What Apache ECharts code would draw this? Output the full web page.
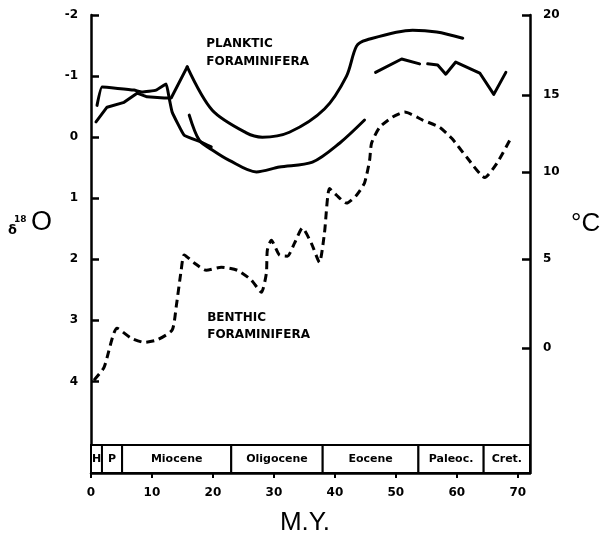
<!DOCTYPE html>
<html>
<head>
<meta charset="utf-8">
<script src="https://cdn.jsdelivr.net/npm/echarts@6/dist/echarts.min.js"></script>
<style>html,body{margin:0;padding:0;background:#fff;}#c{width:601px;height:533px;}</style>
</head>
<body>
<div id="c"></div>
<script>
// ---- data (MY, delta18O) ----
const plankticA = [[0.99,-0.52],[1.81,-0.82],[7.07,-0.77],[8.38,-0.74],[10.68,-0.77],[12.33,-0.87],[12.82,-0.64],[13.31,-0.41],[15.28,-0.03],[18.08,0.08],[19.72,0.16]];
const plankticB1 = [[0.82,-0.25],[2.63,-0.49],[5.42,-0.57],[7.56,-0.72],[9.20,-0.66],[12.00,-0.64],[13.15,-0.64],[15.78,-1.15]];
const plankticB2 = [[15.78,-1.15],[19.89,-0.44],[25.47,-0.07],[28.10,0.00],[32.54,-0.08],[38.29,-0.46],[41.91,-1.00],[43.55,-1.49],[45.19,-1.59],[52.75,-1.75],[56.70,-1.72],[60.97,-1.62]];
const plankticC = [[16.11,-0.36],[17.75,0.05],[19.89,0.21],[22.68,0.38],[27.12,0.57],[30.90,0.49],[36.32,0.41],[40.76,0.10],[44.86,-0.28]];
const plankticD1 = [[46.67,-1.06],[50.95,-1.28],[53.90,-1.20]];
const plankticD2 = [[55.22,-1.20],[56.86,-1.18],[58.18,-1.03],[59.82,-1.23],[63.76,-1.05],[66.06,-0.70],[68.04,-1.06]];
const benthic = [[0.49,3.98],[2.14,3.77],[4.27,3.13],[6.57,3.29],[8.71,3.36],[10.85,3.32],[13.31,3.16],[13.97,2.78],[14.79,2.18],[15.28,1.93],[16.93,2.06],[18.90,2.18],[21.36,2.13],[23.99,2.18],[26.29,2.34],[27.94,2.54],[28.76,2.23],[28.92,1.85],[29.58,1.69],[30.89,1.93],[32.21,1.95],[33.36,1.74],[34.68,1.49],[36.15,1.74],[37.47,2.05],[38.29,1.57],[39.11,0.84],[40.26,0.95],[41.91,1.08],[43.55,0.95],[44.86,0.75],[45.69,0.38],[46.01,0.10],[47.33,-0.16],[49.47,-0.33],[51.44,-0.41],[54.40,-0.28],[57.19,-0.16],[59.16,0.02],[61.63,0.33],[64.59,0.66],[66.56,0.43],[68.69,0.05]];

// epochs
const epochNames = ['H','P','Miocene','Oligocene','Eocene','Paleoc.','Cret.'];
const epochBounds = [0,1.8,5.1,23.0,38.0,53.7,64.4,72];
const epochBand = [5.04,5.5];

// ticks
const myTicks = [0,10,20,30,40,50,60,70];
const deltaTicks = [-2,-1,0,1,2,3,4];
const tempLabels = ['20','15','10','5','0'];
const tempPositions = [-2.0,-0.69,0.57,2.0,3.45];

const chart = echarts.init(document.getElementById('c'), null, {renderer:'canvas'});
const F = 'DejaVu Sans';
const lblFont = {color:'#000',fontWeight:'bold',fontSize:12,fontFamily:F};

const line = (d,sm)=>({type:'line',data:d,showSymbol:false,symbol:'none',smooth:sm,
  lineStyle:{color:'#000',width:3,cap:'round',join:'round'},silent:true,z:3});

const epochAreas = epochNames.map((n,i)=>[
  {name:n, coord:[epochBounds[i], epochBand[0]]},
  {coord:[epochBounds[i+1], epochBand[1]]}
]);

const option = {
  animation:false,
  backgroundColor:'#fff',
  grid:{left:91,right:71,top:15,bottom:60},
  xAxis:{type:'value',min:0,max:72,
    axisLine:{show:true,onZero:false,lineStyle:{color:'#000',width:2.5}},
    axisTick:{show:true,length:5,customValues:myTicks,lineStyle:{color:'#000',width:2}},
    axisLabel:Object.assign({margin:14,customValues:myTicks},lblFont),
    splitLine:{show:false}},
  yAxis:[
    {type:'value',inverse:true,min:-2,max:5.5,position:'left',
      axisLine:{show:true,onZero:false,lineStyle:{color:'#000',width:2.5}},
      axisTick:{show:true,inside:true,length:8,customValues:deltaTicks,lineStyle:{color:'#000',width:2.5}},
      axisLabel:Object.assign({margin:13,customValues:deltaTicks,formatter:(v)=>String(v)},lblFont),
      splitLine:{show:false}},
    {type:'value',inverse:true,min:-2,max:5.5,position:'right',
      axisLine:{show:true,onZero:false,lineStyle:{color:'#000',width:2.5}},
      axisTick:{show:true,inside:true,length:8,customValues:tempPositions,lineStyle:{color:'#000',width:2.5}},
      axisLabel:Object.assign({margin:13,customValues:tempPositions,formatter:(v)=>{
        let best=0,bd=1e9; tempPositions.forEach((p,i)=>{const d=Math.abs(p-v); if(d<bd){bd=d;best=i;}}); return tempLabels[best];}},lblFont),
      splitLine:{show:false}}
  ],
  series:[
    line(plankticA,0.1),
    line(plankticB1,0),
    line(plankticB2,0.3),
    line(plankticC,0.3),
    line(plankticD1,0),
    line(plankticD2,0),
    {type:'line',data:benthic,showSymbol:false,symbol:'none',smooth:0.2,silent:true,z:3,
      lineStyle:{color:'#000',width:3,type:[8,5]},
      markArea:{silent:true,
        itemStyle:{color:'#fff',borderColor:'#000',borderWidth:2},
        label:{show:true,position:'inside',color:'#000',fontWeight:'bold',fontSize:11,fontFamily:F},
        data:epochAreas}}
  ]
};
chart.setOption(option);

// annotation texts anchored in data coordinates
const p1 = chart.convertToPixel({gridIndex:0},[18.9,-1.52]);
const p2 = chart.convertToPixel({gridIndex:0},[18.9,-1.23]);
const b1 = chart.convertToPixel({gridIndex:0},[19.06,2.96]);
const b2 = chart.convertToPixel({gridIndex:0},[19.06,3.23]);
const ann = (t,p)=>({type:'text',style:{text:t,x:p[0],y:p[1],textAlign:'left',textVerticalAlign:'middle',font:'bold 12px "DejaVu Sans"',fill:'#000'}});
chart.setOption({graphic:[
  ann('PLANKTIC',p1), ann('FORAMINIFERA',p2),
  ann('BENTHIC',b1), ann('FORAMINIFERA',b2),
  {type:'text',style:{text:'δ',x:8,y:231,textAlign:'left',textVerticalAlign:'middle',font:'bold 13px "DejaVu Sans"',fill:'#000'}},
  {type:'text',style:{text:'18',x:14,y:220,textAlign:'left',textVerticalAlign:'middle',font:'bold 9px "DejaVu Sans"',fill:'#000'}},
  {type:'text',style:{text:'O',x:31,y:223,textAlign:'left',textVerticalAlign:'middle',font:'27px "Liberation Sans"',fill:'#000'}},
  {type:'text',style:{text:'°C',x:571,y:224,textAlign:'left',textVerticalAlign:'middle',font:'26px "Liberation Sans"',fill:'#000'}},
  {type:'text',style:{text:'M.Y.',x:305,y:523,textAlign:'center',textVerticalAlign:'middle',font:'26px "Liberation Sans"',fill:'#000'}}
]});
</script>
</body>
</html>
